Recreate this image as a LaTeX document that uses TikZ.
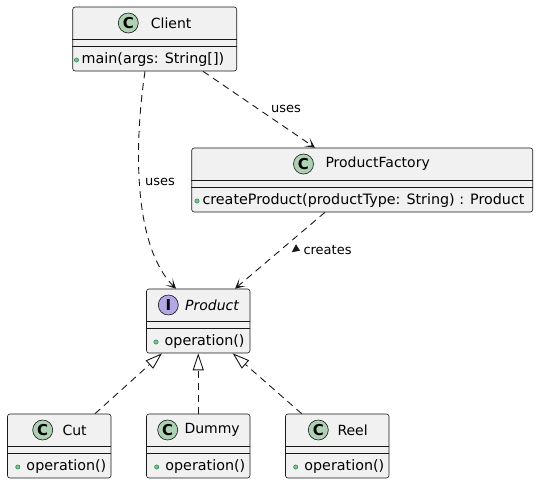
\documentclass[tikz,border=0pt]{standalone}
\usepackage{fontspec}
\setmainfont{DejaVu Sans}
\usetikzlibrary{arrows.meta,calc}
\definecolor{boxf}{HTML}{F1F1F1}
\definecolor{boxc}{HTML}{181818}
\definecolor{linec}{HTML}{181818}
\definecolor{cgreen}{HTML}{ADD1B2}
\definecolor{ipurple}{HTML}{B4A7E5}
\definecolor{dotf}{HTML}{84BE84}
\definecolor{dotd}{HTML}{038048}
\begin{document}
\begin{tikzpicture}[x=1pt,y=-1pt,
 cls/.style={draw=boxc, fill=boxf, line width=0.6pt, rounded corners=2.5pt, inner sep=0pt, minimum height=64pt},
 badge/.style={circle, draw=boxc, line width=0.6pt, minimum size=20pt, inner sep=0pt, font=\fontsize{15}{15}\selectfont\bfseries},
 ttl/.style={inner sep=0pt, anchor=west, font=\fontsize{14}{16}\selectfont},
 mem/.style={inner sep=0pt, anchor=west, font=\fontsize{14.3}{16}\selectfont},
 dot/.style={circle, fill=dotf, draw=dotd, line width=0.4pt, minimum size=4.3pt, inner sep=0pt},
 sep/.style={draw=boxc, line width=0.6pt},
 dep/.style={draw=linec, line width=0.9pt, dash pattern=on 7pt off 5pt, -{Stealth[length=10pt,width=10pt,inset=6pt]}},
 real/.style={draw=linec, line width=0.9pt, dash pattern=on 7pt off 5pt, -{Triangle[open, length=17pt, width=11pt, fill=white, line width=0.9pt]}},
 lbl/.style={inner sep=0pt, anchor=west, font=\fontsize{13}{15}\selectfont},
]
\useasboundingbox (0,0) rectangle (539,484);

% ---- Client
\node[cls, minimum width=164pt] (client) at (154.7,39) {};
\draw[sep] ([yshift=-32.5pt]client.north west) -- ([yshift=-32.5pt]client.north east);
\draw[sep] ([yshift=-40pt]client.north west) -- ([yshift=-40pt]client.north east);
\node[badge, fill=cgreen] (clientB) at (128.3,23) {C};
\node[ttl] (clientT) at (150.7,23) {Client};
\node[dot] (clientD) at (76.5,60) {};
\node[mem] (clientM) at (81.5,59.5) {main(args: String[])};

% ---- ProductFactory
\node[cls, minimum width=341pt] (pf) at (362.2,180) {};
\draw[sep] ([yshift=-32.5pt]pf.north west) -- ([yshift=-32.5pt]pf.north east);
\draw[sep] ([yshift=-40pt]pf.north west) -- ([yshift=-40pt]pf.north east);
\node[badge, fill=cgreen] (pfB) at (303.5,164) {C};
\node[ttl] (pfT) at (325.3,164) {ProductFactory};
\node[dot] (pfD) at (197,201) {};
\node[mem] (pfM) at (202.3,200.5) {createProduct(productType: String) : Product};

% ---- Product (interface)
\node[cls, minimum width=103.5pt] (product) at (198.25,321) {};
\draw[sep] ([yshift=-32.5pt]product.north west) -- ([yshift=-32.5pt]product.north east);
\draw[sep] ([yshift=-40pt]product.north west) -- ([yshift=-40pt]product.north east);
\node[badge, fill=ipurple] (productB) at (168.3,305) {I};
\node[ttl] (productT) at (185,305) {\itshape Product};
\node[dot] (productD) at (156,342) {};
\node[mem] (productM) at (164.5,341.5) {operation()};

% ---- Cut
\node[cls, minimum width=103.5pt] (cut) at (59.25,446) {};
\draw[sep] ([yshift=-32.5pt]cut.north west) -- ([yshift=-32.5pt]cut.north east);
\draw[sep] ([yshift=-40pt]cut.north west) -- ([yshift=-40pt]cut.north east);
\node[badge, fill=cgreen] (cutB) at (42.7,430) {C};
\node[ttl] (cutT) at (62.3,430) {Cut};
\node[dot] (cutD) at (17.8,467) {};
\node[mem] (cutM) at (26.3,466.5) {operation()};

% ---- Dummy
\node[cls, minimum width=103.5pt] (dummy) at (198.25,446) {};
\draw[sep] ([yshift=-32.5pt]dummy.north west) -- ([yshift=-32.5pt]dummy.north east);
\draw[sep] ([yshift=-40pt]dummy.north west) -- ([yshift=-40pt]dummy.north east);
\node[badge, fill=cgreen] (dummyB) at (167.7,430) {C};
\node[ttl] (dummyT) at (184.3,430) {Dummy};
\node[dot] (dummyD) at (156.7,467) {};
\node[mem] (dummyM) at (165.2,466.5) {operation()};

% ---- Reel
\node[cls, minimum width=103.5pt] (reel) at (337.25,446) {};
\draw[sep] ([yshift=-32.5pt]reel.north west) -- ([yshift=-32.5pt]reel.north east);
\draw[sep] ([yshift=-40pt]reel.north west) -- ([yshift=-40pt]reel.north east);
\node[badge, fill=cgreen] (reelB) at (318.3,430) {C};
\node[ttl] (reelT) at (337.3,430) {Reel};
\node[dot] (reelD) at (295.7,467) {};
\node[mem] (reelM) at (304.2,466.5) {operation()};

% ---- connectors
\draw[dep] ([xshift=-9.7pt]client.south) .. controls (132,160) and (137,250) .. ([xshift=-22.25pt]product.north);
\node[lbl] (uses1) at (145,182) {uses};

\draw[dep] ([xshift=48.3pt]client.south) -- ([xshift=-47.2pt]pf.north);
\node[lbl] (uses2) at (271,108.5) {uses};

\draw[dep] ([xshift=-37.2pt]pf.south) -- ([xshift=36.75pt]product.north);
\fill[linec] (296,244.3) -- (291.7,252.3) -- (300,250.7) -- cycle;
\node[lbl] (creates) at (303.3,250) {creates};

\draw[real] ([xshift=35.75pt]cut.north) -- ([xshift=-36.25pt]product.south);
\draw[real] (dummy.north) -- (product.south);
\draw[real] ([xshift=-35.55pt]reel.north) -- ([xshift=34.45pt]product.south);
\end{tikzpicture}
\end{document}
